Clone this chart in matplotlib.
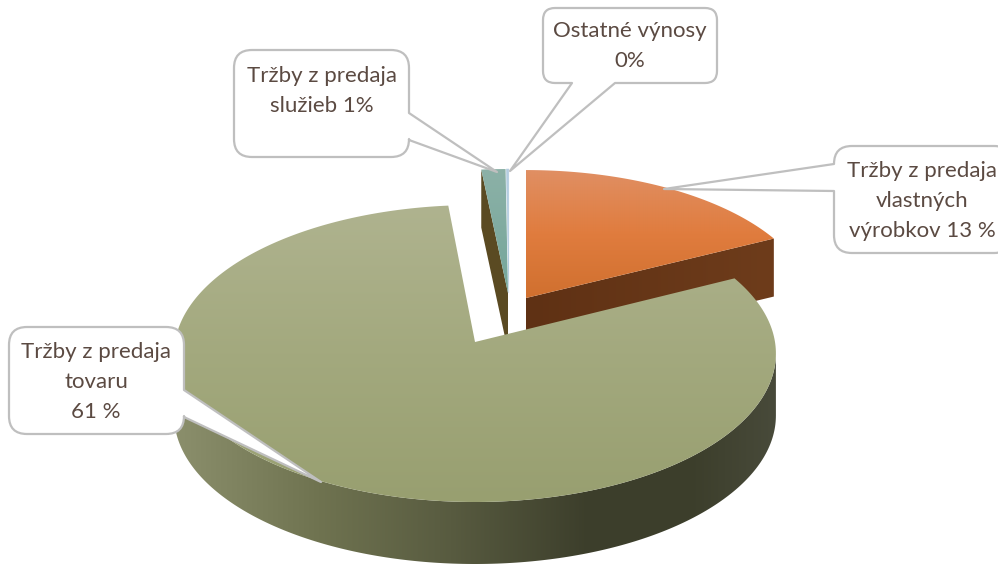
import numpy as np
import matplotlib

matplotlib.use("Agg")
import matplotlib.pyplot as plt
from matplotlib.colors import LinearSegmentedColormap
from matplotlib.patches import PathPatch, Polygon
from matplotlib.path import Path

# shares read from the drawn angles (printed labels do not add up to 100)
categories = [
    "Tržby z predaja vlastných výrobkov",
    "Tržby z predaja tovaru",
    "Tržby z predaja služieb",
    "Ostatné výnosy",
]
shares = [17.64, 80.83, 1.39, 0.14]
label_texts = [
    "Tržby z predaja\nvlastných\nvýrobkov 13 %",
    "Tržby z predaja\ntovaru\n61 %",
    "Tržby z predaja\nslužieb 1%",
    "Ostatné výnosy\n0%",
]

# layout, in pixels of the 998x564 picture
RX, RY, PERSP = 300.0, 147.6, 0.0775
APEX = [(526, 298), (475, 342), (508, 293), (508.8, 293)]
SCALE = [(0.955, 0.934), (1.0, 1.0), (1.0, 0.905), (1.0, 0.905)]
DEPTH = [58, 62, 58, 58]
START_ANGLE = 0.0

TOP_COLORS = [
    ["#e08f63", "#e07c3e", "#d0702f"],
    ["#afb38f", "#a3a97e", "#989f70"],
    ["#8cb1a7", "#74a69a"],
    ["#c3d6e6", "#b4cde0"],
]
TEXT_COLOR = "#5b4a42"
LINE_COLOR = "#bfbfbf"

BOXES = [
    (834, 146, 1012, 253),
    (9, 327, 184, 434),
    (234, 50, 409, 157),
    (543, 8, 717, 83),
]
RADII = [18, 18, 18, 12]
TEXT_CENTERS = [(922, 201), (96, 382), (322, 91), (630, 46)]
TAILS = [
    ("left", (834, 164), (664, 189), (834, 191)),
    ("right", (184, 390), (321, 482), (184, 417)),
    ("right", (409, 113), (497, 172), (409, 140)),
    ("bottom", (615, 83), (510, 171), (572, 83)),
]


def rim(index, theta):
    """Points of a slice's outer edge, theta in degrees clockwise from the back."""
    t = np.radians(theta)
    s = 1 / (1 + PERSP * np.cos(t))
    sx, sy = SCALE[index]
    ax, ay = APEX[index]
    return np.column_stack(
        [ax + sx * RX * np.sin(t) * s, ay - sy * RY * np.cos(t) * s]
    )


def gradient_fill(ax, pts, colors, stops=None, horizontal=False, zorder=1):
    """Fill a polygon with a linear gradient, clipped image style."""
    pts = np.asarray(pts)
    x0, x1 = pts[:, 0].min(), pts[:, 0].max()
    y0, y1 = pts[:, 1].min(), pts[:, 1].max()
    if stops is None:
        stops = np.linspace(0, 1, len(colors))
    cmap = LinearSegmentedColormap.from_list("g", list(zip(stops, colors)))
    ramp = np.linspace(0, 1, 256)
    data = ramp.reshape(1, -1) if horizontal else ramp.reshape(-1, 1)
    img = ax.imshow(
        data,
        cmap=cmap,
        vmin=0,
        vmax=1,
        extent=(x0, x1, y1, y0),
        aspect="auto",
        interpolation="bilinear",
        zorder=zorder,
    )
    poly = Polygon(pts, closed=True, transform=ax.transData)
    img.set_clip_path(poly)


def callout(ax, box, radius, tail, zorder=5):
    x0, y0, x1, y1 = box
    r = radius
    side, p1, tip, p2 = tail
    verts = [(x0 + r, y0)]
    codes = [Path.MOVETO]

    def line(pts):
        for p in pts:
            verts.append(p)
            codes.append(Path.LINETO)

    def corner(c, end):
        verts.extend([c, end])
        codes.extend([Path.CURVE3, Path.CURVE3])

    line([(x1 - r, y0)])
    corner((x1, y0), (x1, y0 + r))
    if side == "right":
        line([p1, tip, p2])
    line([(x1, y1 - r)])
    corner((x1, y1), (x1 - r, y1))
    if side == "bottom":
        line([p1, tip, p2])
    line([(x0 + r, y1)])
    corner((x0, y1), (x0, y1 - r))
    if side == "left":
        line([p2, tip, p1])
    line([(x0, y0 + r)])
    corner((x0, y0), (x0 + r, y0))
    verts.append(verts[0])
    codes.append(Path.CLOSEPOLY)
    ax.add_patch(
        PathPatch(
            Path(verts, codes),
            facecolor="white",
            edgecolor=LINE_COLOR,
            linewidth=1.6,
            joinstyle="round",
            zorder=zorder,
        )
    )


fig = plt.figure(figsize=(9.98, 5.64), dpi=100)
ax = fig.add_axes([0, 0, 1, 1])

# slice angles from the shares
fractions = np.array(shares) / sum(shares)
ends = START_ANGLE + np.cumsum(fractions) * 360
starts = ends - fractions * 360

# orange: cut face toward the front right
end_pt = rim(0, np.array([ends[0]]))[0]
apex = np.array(APEX[0])
down = np.array([0, DEPTH[0]])
gradient_fill(
    ax,
    [end_pt, apex, apex + down, end_pt + down],
    ["#5f3114", "#6e3c1b"],
    horizontal=True,
    zorder=1,
)
arc = rim(0, np.linspace(starts[0], ends[0], 80))
gradient_fill(ax, np.vstack([apex, arc]), TOP_COLORS[0], zorder=2)

# teal: cut face on the left side
left_pt = rim(2, np.array([starts[2]]))[0]
apex = np.array(APEX[2])
down = np.array([0, DEPTH[2]])
ax.add_patch(
    Polygon(
        [left_pt, apex, apex + down, left_pt + down],
        closed=True,
        facecolor="#5a4a22",
        edgecolor="none",
        zorder=1,
    )
)
arc = rim(2, np.linspace(starts[2], ends[2], 10))
gradient_fill(ax, np.vstack([apex, arc]), TOP_COLORS[2], zorder=2)

# the very thin last slice
apex = np.array(APEX[3])
arc = rim(3, np.linspace(starts[3], ends[3], 4))
ax.add_patch(
    Polygon(
        np.vstack([apex, arc]),
        closed=True,
        facecolor=TOP_COLORS[3][1],
        edgecolor=TOP_COLORS[3][1],
        linewidth=0.4,
        zorder=3,
    )
)

# big slice: outer wall on the front, then the top
wall_rim = rim(1, np.linspace(94.4, 265.6, 200))
wall = np.vstack([wall_rim, (wall_rim + [0, DEPTH[1]])[::-1]])
gradient_fill(
    ax,
    wall,
    ["#8b8f6c", "#6f7350", "#585b40", "#3c3e2b", "#3d3f2c", "#484a3a"],
    stops=[0, 0.24, 0.46, 0.69, 0.87, 1],
    horizontal=True,
    zorder=3,
)
arc = rim(1, np.linspace(starts[1], ends[1], 300))
gradient_fill(ax, np.vstack([APEX[1], arc]), TOP_COLORS[1], zorder=4)

# callouts with their labels
for i, name in enumerate(categories):
    callout(ax, BOXES[i], RADII[i], TAILS[i])
    ax.text(
        TEXT_CENTERS[i][0],
        TEXT_CENTERS[i][1],
        label_texts[i],
        ha="center",
        va="center",
        fontsize=16,
        family="Lato",
        color=TEXT_COLOR,
        linespacing=1.6,
        zorder=6,
    )

ax.set_xlim(0, 998)
ax.set_ylim(564, 0)
ax.axis("off")

fig.savefig("out.png", dpi=100, facecolor="white")
